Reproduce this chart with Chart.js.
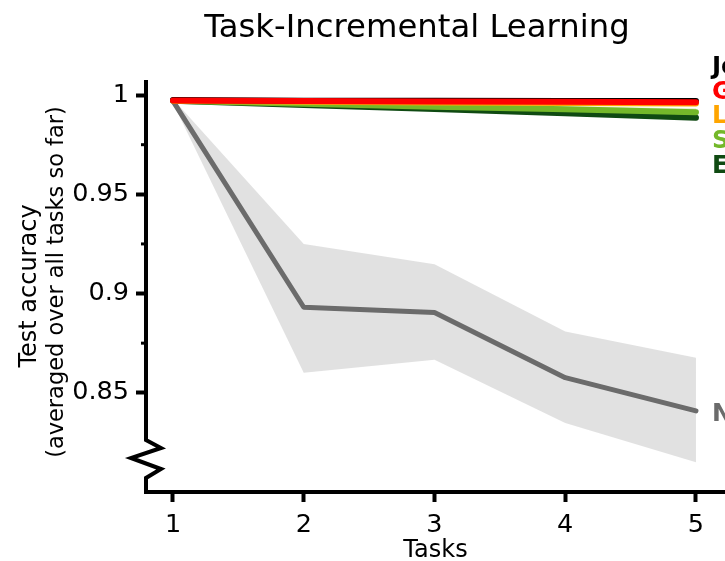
<!DOCTYPE html>
<html>
<head>
<meta charset="utf-8">
<script src="https://cdn.jsdelivr.net/npm/chart.js@4.4.1/dist/chart.umd.min.js"></script>
<style>
  html, body { margin: 0; padding: 0; background: #fff; overflow: hidden; }
  #wrap { width: 725px; height: 561px; }
</style>
</head>
<body>
<div id="wrap"><canvas id="c" width="725" height="561"></canvas></div>
<script>
// Number of tasks seen so far
const tasks = [1, 2, 3, 4, 5];

// Average test accuracy over all tasks so far
const jointAcc = [0.9975, 0.9972, 0.9971, 0.9970, 0.9970];
const grAcc    = [0.9973, 0.9970, 0.9968, 0.9966, 0.9964];
const lwfAcc   = [0.9972, 0.9967, 0.9963, 0.9960, 0.9958];
const siAcc    = [0.9972, 0.9956, 0.9941, 0.9928, 0.9914];
const ewcAcc   = [0.9972, 0.9950, 0.9930, 0.9909, 0.9886];
const noneAcc  = [0.9970, 0.8931, 0.8905, 0.8576, 0.8409];

// Spread (± 1 SEM) shown as shaded bands
const siSpread   = [0.0004, 0.0010, 0.0014, 0.0016, 0.0018];
const ewcSpread  = [0.0004, 0.0008, 0.0010, 0.0012, 0.0013];
const noneUpper  = [0.9980, 0.9250, 0.9148, 0.8809, 0.8677];
const noneLower  = [0.9960, 0.8601, 0.8667, 0.8348, 0.8150];

// Axis ticks
const yTicks      = [0.85, 0.9, 0.95, 1];
const yTickLabels = ['0.85', '0.9', '0.95', '1'];
const yMinorTicks = [0.875, 0.925, 0.975];

// Method names written at the right end of each curve, and their heights
const methodNames  = ['Joint', 'GR', 'LwF', 'SI', 'EWC', 'None'];
const methodColors = ['#000000', '#ff0000', '#ffa500', '#74b82a', '#0f4a12', '#6b6b6b'];
const nameLevels   = [1.0139, 1.0014, 0.9889, 0.9764, 0.9640, 0.8388];

const FONT = "'DejaVu Sans', 'Liberation Sans', sans-serif";

const pts = (ys) => tasks.map((t, i) => ({ x: t, y: ys[i] }));
const shift = (ys, d, s) => ys.map((v, i) => v + s * d[i]);

function curve(label, ys, color, width) {
  return {
    label, data: pts(ys), borderColor: color, borderWidth: width,
    pointRadius: 0, fill: false, tension: 0,
    borderCapStyle: 'round', borderJoinStyle: 'round'
  };
}
function bandEdge(label, ys, fillColor, fillTarget) {
  return {
    label, data: pts(ys), borderWidth: 0, borderColor: 'rgba(0,0,0,0)',
    backgroundColor: fillColor, pointRadius: 0, fill: fillTarget, tension: 0
  };
}

// First dataset is painted last (on top)
const datasets = [
  curve('GR', grAcc, '#ff0000', 6),
  curve('Joint', jointAcc, '#000000', 6),
  curve('LwF', lwfAcc, '#ffa500', 6),
  curve('SI', siAcc, '#74b82a', 6),
  curve('EWC', ewcAcc, '#0f4a12', 6),
  bandEdge('SI+', shift(siAcc, siSpread, 1), 'rgba(116,184,42,0.25)', '+1'),
  bandEdge('SI-', shift(siAcc, siSpread, -1), 'rgba(0,0,0,0)', false),
  bandEdge('EWC+', shift(ewcAcc, ewcSpread, 1), 'rgba(15,74,18,0.22)', '+1'),
  bandEdge('EWC-', shift(ewcAcc, ewcSpread, -1), 'rgba(0,0,0,0)', false),
  curve('None', noneAcc, '#6b6b6b', 5),
  bandEdge('None+', noneUpper, 'rgba(200,200,200,0.55)', '+1'),
  bandEdge('None-', noneLower, 'rgba(0,0,0,0)', false)
];

// Title, y-axis titles, broken y spine, minor ticks and curve names
const decor = {
  id: 'decor',
  afterDraw(chart) {
    const { ctx, chartArea: a, scales: { y } } = chart;
    ctx.save();

    // y spine with a zig-zag break near the bottom
    ctx.strokeStyle = '#000';
    ctx.lineWidth = 4;
    ctx.lineJoin = 'miter';
    ctx.lineCap = 'butt';
    ctx.beginPath();
    ctx.moveTo(a.left, a.top);
    ctx.lineTo(a.left, a.bottom - 52);
    ctx.lineTo(a.left + 15, a.bottom - 44);
    ctx.lineTo(a.left - 15, a.bottom - 34);
    ctx.lineTo(a.left + 15, a.bottom - 23);
    ctx.lineTo(a.left, a.bottom - 14);
    ctx.lineTo(a.left, a.bottom + 2);
    ctx.stroke();

    // minor ticks
    ctx.lineWidth = 3;
    yMinorTicks.forEach(v => {
      const py = y.getPixelForValue(v);
      ctx.beginPath();
      ctx.moveTo(a.left - 5, py);
      ctx.lineTo(a.left, py);
      ctx.stroke();
    });

    // title
    ctx.fillStyle = '#000';
    ctx.textAlign = 'center';
    ctx.textBaseline = 'alphabetic';
    ctx.font = `32.3px ${FONT}`;
    ctx.fillText('Task-Incremental Learning', 417, 37);

    // y-axis titles
    const cy = (a.top + a.bottom) / 2;
    ctx.save();
    ctx.translate(30, cy);
    ctx.rotate(-Math.PI / 2);
    ctx.textBaseline = 'middle';
    ctx.font = `24px ${FONT}`;
    ctx.fillText('Test accuracy', 0, 0);
    ctx.restore();
    ctx.save();
    ctx.translate(57, cy - 4);
    ctx.rotate(-Math.PI / 2);
    ctx.textBaseline = 'middle';
    ctx.font = `22.5px ${FONT}`;
    ctx.fillText('(averaged over all tasks so far)', 0, 0);
    ctx.restore();

    // curve names at the right end
    ctx.textAlign = 'left';
    ctx.textBaseline = 'middle';
    ctx.font = `bold 24.5px ${FONT}`;
    methodNames.forEach((n, i) => {
      ctx.fillStyle = methodColors[i];
      ctx.fillText(n, 712, y.getPixelForValue(nameLevels[i]));
    });

    ctx.restore();
  }
};

new Chart(document.getElementById('c'), {
  type: 'line',
  data: { datasets },
  options: {
    responsive: false,
    animation: false,
    devicePixelRatio: 1,
    layout: { padding: { top: 80, right: 0, left: 0, bottom: 0 } },
    plugins: { legend: { display: false }, tooltip: { enabled: false }, title: { display: false } },
    scales: {
      x: {
        type: 'linear',
        min: 0.7935,
        max: 5.222,
        afterBuildTicks: (s) => { s.ticks = tasks.map(v => ({ value: v })); },
        afterFit: (s) => { s.height = 69; },
        ticks: {
          color: '#000', font: { family: FONT, size: 25.5 }, padding: 8,
          callback: (v) => String(v), maxRotation: 0, autoSkip: false
        },
        grid: { drawOnChartArea: false, drawTicks: true, tickLength: 10, tickWidth: 4, tickColor: '#000' },
        border: { display: true, width: 4, color: '#000' },
        title: { display: true, text: 'Tasks', color: '#000', font: { family: FONT, size: 24 }, padding: { top: 0, bottom: -4 } }
      },
      y: {
        type: 'linear',
        min: 0.8,
        max: 1.0076,
        afterBuildTicks: (s) => { s.ticks = yTicks.map(v => ({ value: v })); },
        afterFit: (s) => { s.width = 146; },
        ticks: {
          color: '#000', font: { family: FONT, size: 25.5 }, padding: 7,
          callback: (v) => yTickLabels[yTicks.indexOf(v)] ?? ''
        },
        grid: { drawOnChartArea: false, drawTicks: true, tickLength: 10, tickWidth: 4, tickColor: '#000' },
        border: { display: false }
      }
    }
  },
  plugins: [decor]
});
</script>
</body>
</html>
